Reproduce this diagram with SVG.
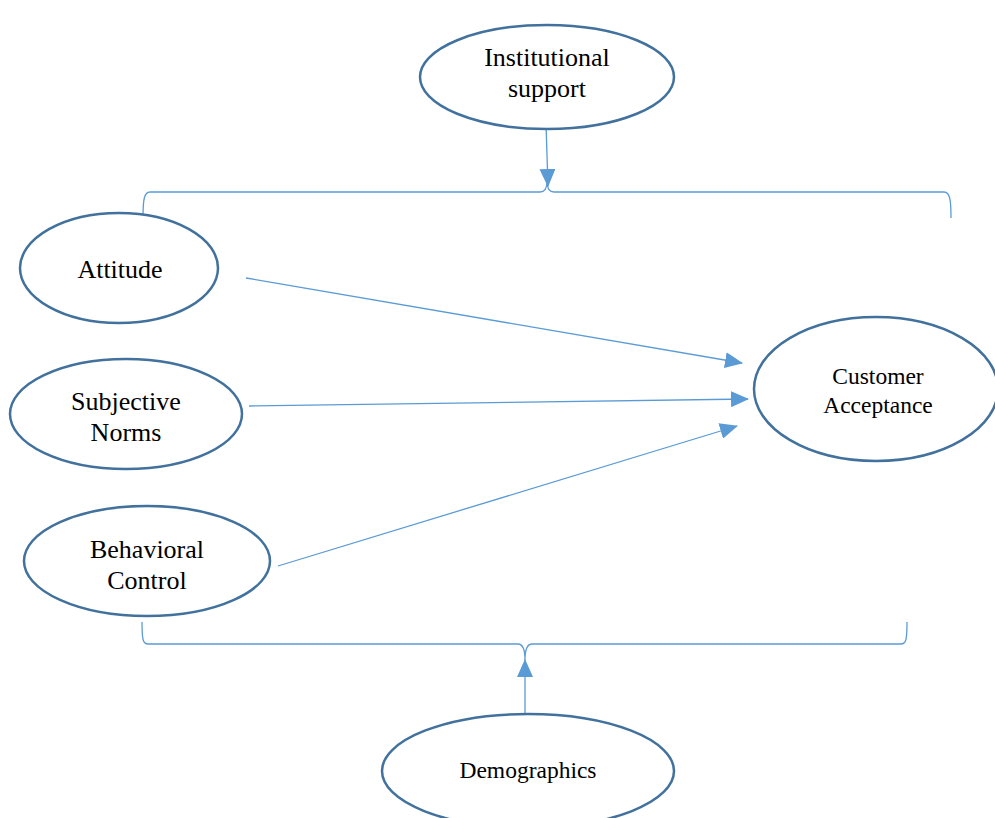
<svg xmlns="http://www.w3.org/2000/svg" width="995" height="818" viewBox="0 0 995 818">
  <style>
    .node { fill: #ffffff; stroke: #41719c; stroke-width: 2.5; }
    .label { font-family: "Liberation Serif", "Times New Roman", serif; fill: #000000; text-anchor: middle; }
    .big { font-size: 26px; }
    .small { font-size: 23.5px; }
    .conn { fill: none; stroke: #5b9bd5; stroke-width: 1.3; }
  </style>
  <defs>
    <marker id="arrowL" markerWidth="18" markerHeight="16" refX="17" refY="8" orient="auto" markerUnits="userSpaceOnUse" viewBox="0 0 18 16">
      <path d="M0,0 L18,8 L0,16 Z" fill="#5b9bd5"/>
    </marker>
  </defs>

  <g id="connectors">
    <!-- top brace -->
    <path class="conn" d="M143,218 C143,200 144,192 150,192 L540,192 C545,192 547,188 547,181 C547,188 549,192 554,192 L944,192 C950,192 951,200 951,218"/>
    <!-- bottom brace -->
    <path class="conn" d="M142,622 C142,640 143,644 148,644 L518,644 C523,644 525,650 525,660 C525,650 527,644 532,644 L901,644 C906,644 907,640 907,622"/>
    <!-- institutional support into top brace -->
    <line class="conn" x1="546" y1="124" x2="548" y2="186" marker-end="url(#arrowL)"/>
    <!-- demographics into bottom brace -->
    <line class="conn" x1="525" y1="714" x2="525" y2="660" marker-end="url(#arrowL)"/>
    <!-- predictors to customer acceptance -->
    <line class="conn" x1="246" y1="278" x2="742" y2="363" marker-end="url(#arrowL)"/>
    <line class="conn" x1="249" y1="406" x2="748" y2="399" marker-end="url(#arrowL)"/>
    <line class="conn" x1="278" y1="566" x2="737" y2="426" marker-end="url(#arrowL)"/>
  </g>

  <g id="institutional-support">
    <ellipse class="node" cx="547" cy="77" rx="127" ry="52"/>
    <text class="label big" x="547" y="66">Institutional</text>
    <text class="label big" x="547" y="97">support</text>
  </g>

  <g id="attitude">
    <ellipse class="node" cx="119" cy="268" rx="99" ry="55"/>
    <text class="label big" x="120" y="278">Attitude</text>
  </g>

  <g id="subjective-norms">
    <ellipse class="node" cx="126" cy="414" rx="116" ry="55"/>
    <text class="label big" x="126" y="410">Subjective</text>
    <text class="label big" x="126" y="441">Norms</text>
  </g>

  <g id="behavioral-control">
    <ellipse class="node" cx="147" cy="561" rx="123" ry="55"/>
    <text class="label big" x="147" y="558">Behavioral</text>
    <text class="label big" x="147" y="589">Control</text>
  </g>

  <g id="customer-acceptance">
    <ellipse class="node" cx="876" cy="389" rx="122" ry="72"/>
    <text class="label small" x="878" y="384">Customer</text>
    <text class="label small" x="878" y="413">Acceptance</text>
  </g>

  <g id="demographics">
    <ellipse class="node" cx="528" cy="771" rx="146" ry="57"/>
    <text class="label small" x="528" y="778">Demographics</text>
  </g>
</svg>
